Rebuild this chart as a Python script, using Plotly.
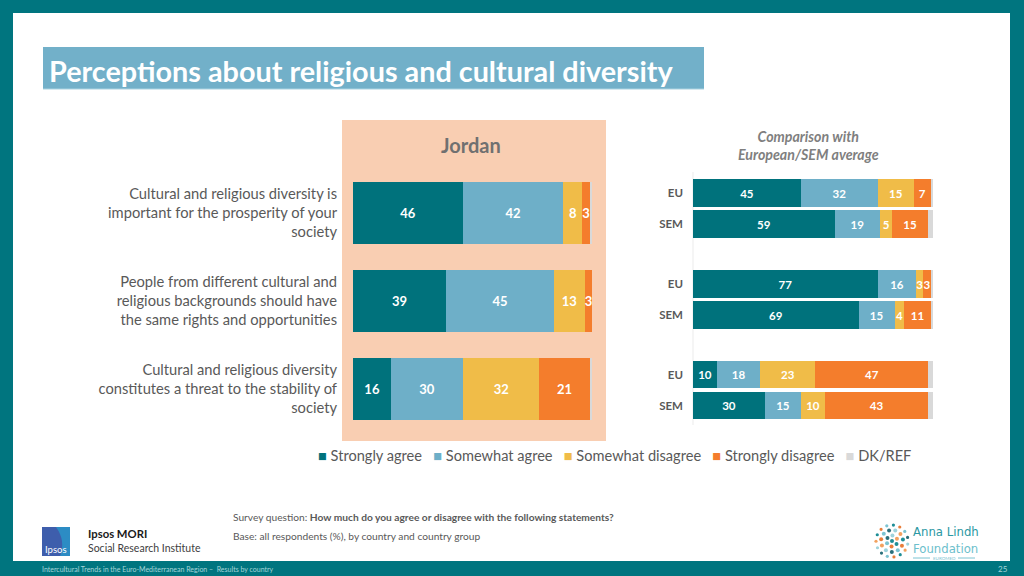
import math
import plotly.graph_objects as go

W, H = 1024, 576
def X(px): return px / W
def Y(py): return 1 - py / H

# ---------------- data ----------------
statements = [
    "Cultural and religious diversity is<br>important for the prosperity of your<br>society",
    "People from different cultural and<br>religious backgrounds should have<br>the same rights and opportunities",
    "Cultural and religious diversity<br>constitutes a threat to the stability of<br>society",
]
series = ["Strongly agree", "Somewhat agree", "Somewhat disagree", "Strongly disagree", "DK/REF"]
colors = ["#00727C", "#6EAFC8", "#F0BC48", "#F47D2C", "#D9D9D9"]

jordan_strongly_agree = [46, 39, 16]
jordan_somewhat_agree = [42, 45, 30]
jordan_somewhat_disagree = [8, 13, 32]
jordan_strongly_disagree = [3, 3, 21]
jordan_dk = [1, 0, 1]

groups = ["EU", "SEM"]
# per statement: [EU, SEM]
cmp_strongly_agree = [[45, 59], [77, 69], [10, 30]]
cmp_somewhat_agree = [[32, 19], [16, 15], [18, 15]]
cmp_somewhat_disagree = [[15, 5], [3, 4], [23, 10]]
cmp_strongly_disagree = [[7, 15], [3, 11], [47, 43]]
cmp_dk = [[1, 2], [1, 1], [2, 2]]

FONT = "Lato"
COND = "DejaVu Sans Condensed, Liberation Sans Narrow, Roboto"
fig = go.Figure()

# ---------------- Jordan panel ----------------
jordan = [jordan_strongly_agree, jordan_somewhat_agree, jordan_somewhat_disagree,
          jordan_strongly_disagree, jordan_dk]
for name, col, vals in zip(series, colors, jordan):
    fig.add_trace(go.Bar(
        x=vals, y=statements, orientation="h", name=name,
        marker=dict(color=col, line=dict(width=0)), width=0.705,
        text=[str(v) if name != "DK/REF" else "" for v in vals],
        textposition="inside", insidetextanchor="middle", constraintext="none",
        textfont=dict(color="white", size=13, family=FONT, weight="bold"),
        xaxis="x", yaxis="y", showlegend=False, hoverinfo="skip",
    ))

# ---------------- Comparison panels ----------------
cmp = [cmp_strongly_agree, cmp_somewhat_agree, cmp_somewhat_disagree,
       cmp_strongly_disagree, cmp_dk]
centers = [208.5, 299.5, 390]
for g in range(3):
    ax = str(g + 2)
    for name, col, vals in zip(series, colors, cmp):
        v = vals[g]
        fig.add_trace(go.Bar(
            x=v, y=groups, orientation="h", name=name,
            marker=dict(color=col, line=dict(width=0)), width=0.9,
            text=[str(t) if name != "DK/REF" else "" for t in v],
            textposition="inside", insidetextanchor="middle", constraintext="none",
            textfont=dict(color="white", size=11.5, family=FONT, weight="bold"),
            xaxis="x" + ax, yaxis="y" + ax, showlegend=False, hoverinfo="skip",
        ))

layout_axes = {}
layout_axes["xaxis"] = dict(domain=[X(353), X(592)], range=[0, 100], visible=False, fixedrange=True)
layout_axes["yaxis"] = dict(domain=[Y(433), Y(169)], anchor="x", autorange="reversed",
                            showline=False, ticks="", ticklabelstandoff=15, fixedrange=True,
                            tickfont=dict(size=14.7, color="#595959", family=FONT))
for g in range(3):
    ax = str(g + 2)
    c = centers[g]
    layout_axes["xaxis" + ax] = dict(domain=[X(693), X(933)], range=[0, 100], visible=False,
                                     anchor="y" + ax, fixedrange=True)
    layout_axes["yaxis" + ax] = dict(domain=[Y(c + 31), Y(c - 31)], anchor="x" + ax,
                                     autorange="reversed", showline=False, ticks="",
                                     ticklabelstandoff=9, fixedrange=True,
                                     tickfont=dict(size=11.5, color="#595959", family=FONT, weight="bold"))

shapes = []
# frame
shapes.append(dict(type="rect", xref="paper", yref="paper", x0=X(13), x1=X(1010), y0=Y(561), y1=Y(13),
                   fillcolor="white", line=dict(width=0), layer="below"))
# title box
shapes.append(dict(type="rect", xref="paper", yref="paper", x0=X(43), x1=X(704), y0=Y(89), y1=Y(47),
                   fillcolor="#72B0C9", line=dict(width=0), layer="below"))
shapes.append(dict(type="line", xref="paper", yref="paper", x0=X(43), x1=X(704), y0=Y(89), y1=Y(89),
                   line=dict(color="#A9D2E0", width=1), layer="below"))
# Jordan peach panel
shapes.append(dict(type="rect", xref="paper", yref="paper", x0=X(342), x1=X(606), y0=Y(441), y1=Y(120),
                   fillcolor="#F9CEB2", line=dict(width=0), layer="below"))
# faint axis line in comparison panel
shapes.append(dict(type="line", xref="paper", yref="paper", x0=X(693), x1=X(693), y0=Y(425), y1=Y(172),
                   line=dict(color="#EBEBEB", width=1), layer="below"))

# Ipsos logo
shapes.append(dict(type="rect", xref="paper", yref="paper", x0=X(42), x1=X(70), y0=Y(556), y1=Y(527),
                   fillcolor="#3E5EAC", line=dict(width=0)))
shapes.append(dict(type="path", xref="paper", yref="paper",
                   path=f"M {X(56)} {Y(527)} L {X(70)} {Y(527)} L {X(70)} {Y(556)} L {X(60)} {Y(556)} Q {X(66)} {Y(541)} {X(56)} {Y(527)} Z",
                   fillcolor="#2C8CC4", line=dict(width=0)))

# Anna Lindh logo dots (decoration)
dot_cols = ["#1E8E96", "#E97E3A", "#7CC4D2", "#2A6F7A", "#9FD3DC", "#F2A15F"]
cx, cy = 892, 541
rings = [(0, 1), (5.5, 6), (11, 11), (16, 15)]
k = 0
for r, n in rings:
    for i in range(n):
        a = 2 * math.pi * i / n + r * 0.3
        px, py = cx + r * math.cos(a), cy + r * math.sin(a)
        rad = 2.0 if r < 16 else 1.6
        shapes.append(dict(type="circle", xref="paper", yref="paper",
                           x0=X(px - rad), x1=X(px + rad), y0=Y(py + rad), y1=Y(py - rad),
                           fillcolor=dot_cols[k % len(dot_cols)], line=dict(width=0)))
        k += 1
shapes.append(dict(type="line", xref="paper", yref="paper", x0=X(913), x1=X(930), y0=Y(558), y1=Y(558),
                   line=dict(color="#7CC4D2", width=1)))
shapes.append(dict(type="line", xref="paper", yref="paper", x0=X(958), x1=X(975), y0=Y(558), y1=Y(558),
                   line=dict(color="#7CC4D2", width=1)))

annotations = []
def ann(text, x, y, size, color, xanchor="left", yanchor="middle", align="left", family=FONT, **kw):
    annotations.append(dict(text=text, x=X(x), y=Y(y), xref="paper", yref="paper", showarrow=False,
                            xanchor=xanchor, yanchor=yanchor, align=align,
                            font=dict(size=size, color=color, family=family, **kw)))

ann("<b>Perceptions about religious and cultural diversity</b>", 47, 71, 28.8, "white")
ann("<b>Jordan</b>", 471, 145, 20, "#707070", xanchor="center")
ann("<b><i>Comparison with<br>European/SEM average</i></b>", 808, 145, 14.2, "#7F7F7F",
    xanchor="center", align="center")

# legend
legend_html = "&nbsp;&nbsp;&nbsp;".join(
    f"<span style='color:{c}'>■</span> {n}" for n, c in zip(series, colors))
ann(legend_html, 614, 455, 14.6, "#595959", xanchor="center")

# footer
ann("Survey question: <b>How much do you agree or disagree with the following statements?</b>",
    231, 517, 10.2, "#595959")
ann("Base: all respondents (%), by country and country group", 231, 536, 10.2, "#595959")
ann("<b>Ipsos MORI</b>", 86, 533, 11.3, "#1A1A1A")
ann("Social Research Institute", 86, 548, 10.5, "#404040")
ann("Ipsos", 56, 549, 9.5, "white", xanchor="center")
ann("Intercultural Trends in the Euro-Mediterranean Region \u2013  Results by country", 40, 569, 7,
    "#A8D6DA")
ann("25", 1003, 569, 8, "#A8D6DA", xanchor="center")
ann("Anna Lindh", 911, 531, 13, "#2B98A3", family=COND)
ann("Foundation", 911, 548, 13, "#6CC0CC", family=COND)
ann("EUROMED", 944, 558, 4.5, "#7CC4D2", xanchor="center")

fig.update_layout(
    width=W, height=H, margin=dict(l=0, r=0, t=0, b=0),
    paper_bgcolor="#00757F", plot_bgcolor="rgba(0,0,0,0)",
    barmode="stack", bargap=0, showlegend=False,
    shapes=shapes, annotations=annotations,
    font=dict(family=FONT),
    **layout_axes,
)

fig.write_html("out.html", config={"displayModeBar": False, "staticPlot": True},
               post_script="document.body.style.margin='0';document.body.style.overflow='hidden';")
